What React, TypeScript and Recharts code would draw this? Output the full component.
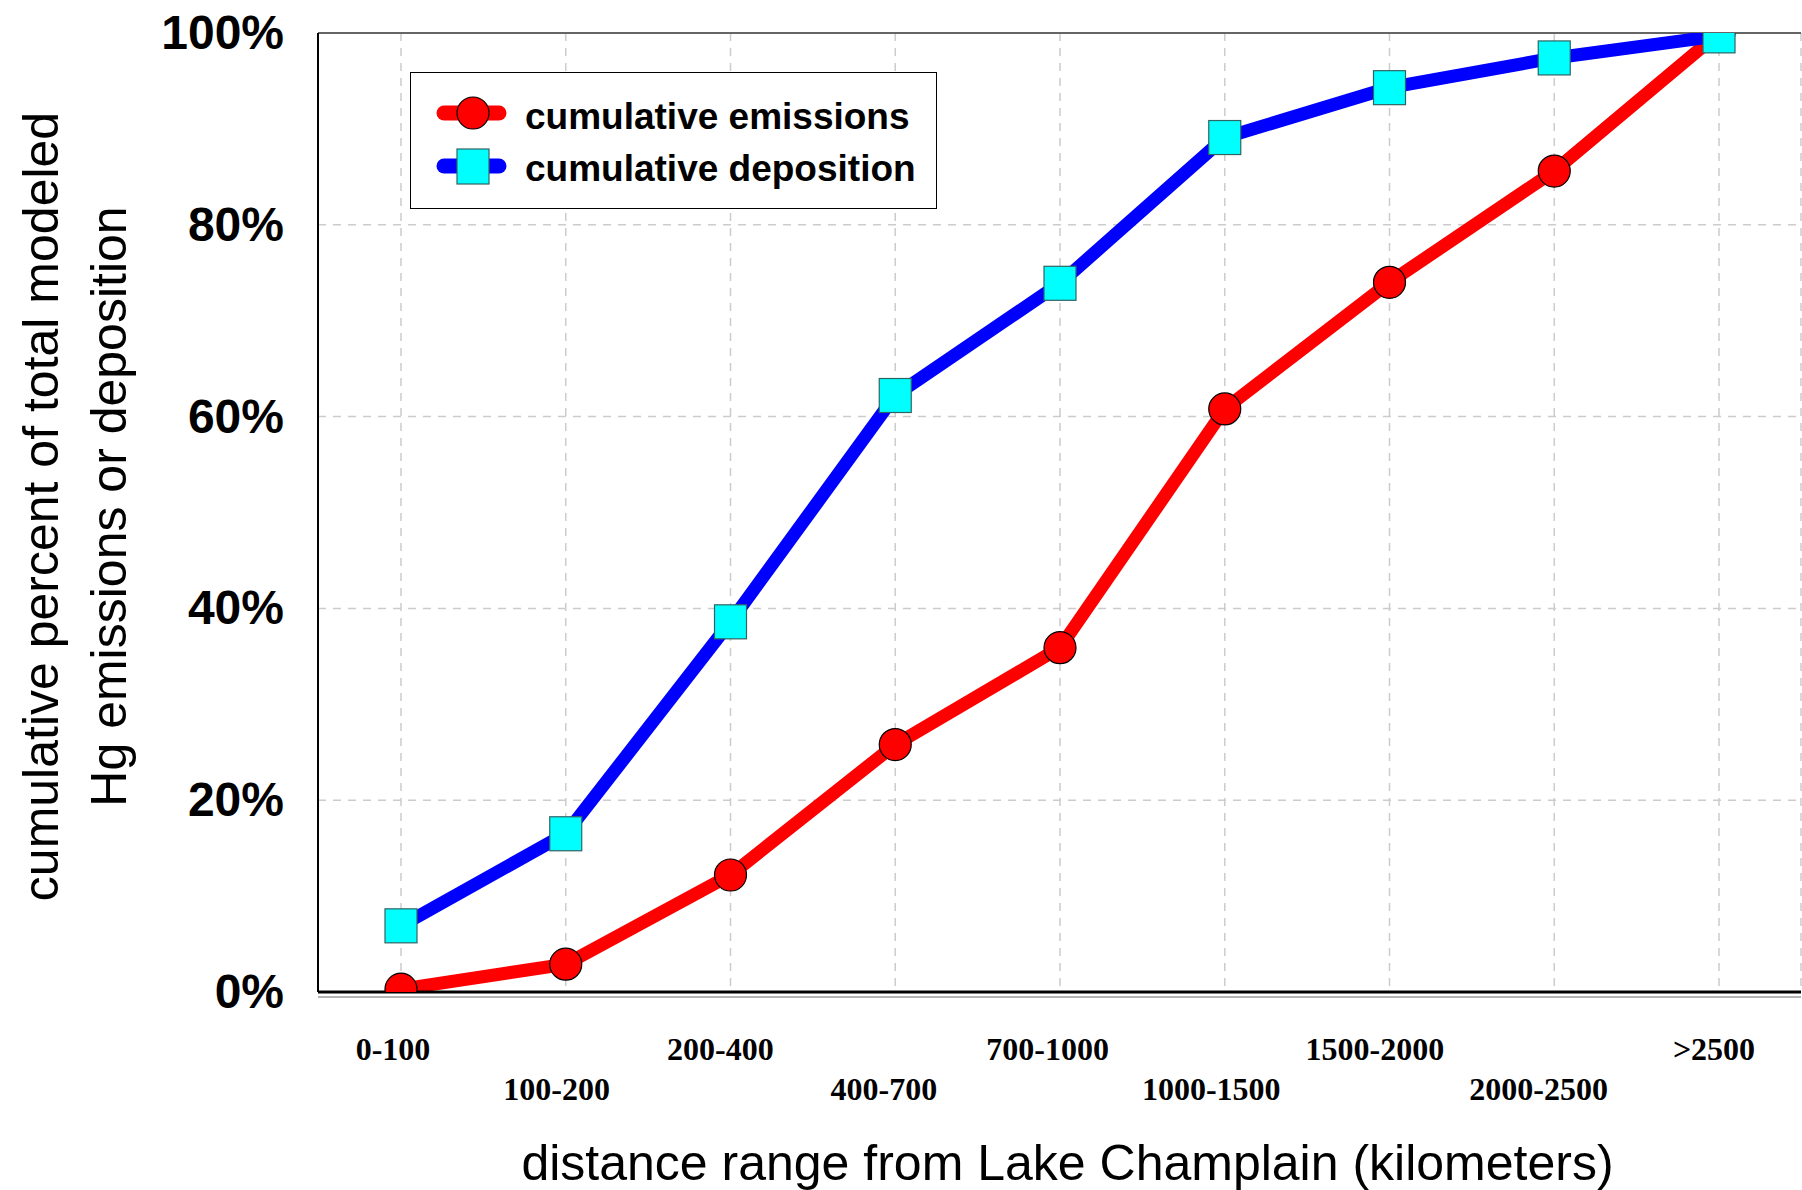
import React from 'react';
import {
  LineChart,
  Line,
  XAxis,
  YAxis,
  CartesianGrid,
  Legend,
  ReferenceLine,
} from 'recharts';

const categories = [
  '0-100',
  '100-200',
  '200-400',
  '400-700',
  '700-1000',
  '1000-1500',
  '1500-2000',
  '2000-2500',
  '>2500',
];
const emissions = [0.3, 2.9, 12.2, 25.8, 35.9, 60.8, 74.0, 85.6, 100];
const deposition = [6.9, 16.5, 38.6, 62.2, 73.9, 89.1, 94.3, 97.4, 99.7];
const yTicks = [0, 20, 40, 60, 80, 100];

const seriesOrder = ['emissions', 'deposition'];
const seriesNames: Record<string, string> = {
  emissions: 'cumulative emissions',
  deposition: 'cumulative deposition',
};

const data = categories.map((range, i) => ({
  range,
  emissions: emissions[i],
  deposition: deposition[i],
}));

const SANS = "'Liberation Sans', Arial, Helvetica, sans-serif";
const SERIF = "'Liberation Serif', 'Times New Roman', Times, serif";

const RED = '#ff0000';
const BLUE = '#0000ff';
const CYAN = '#00ffff';
const SQ_STROKE = '#2f6464';

// layout
const W = 1802;
const H = 1190;
const M_TOP = 33;
const M_RIGHT = 1;
const Y_AXIS_W = 318;
const X_AXIS_H = 198;
const PLOT = {
  x: Y_AXIS_W,
  y: M_TOP,
  width: W - Y_AXIS_W - M_RIGHT,
  height: H - M_TOP - X_AXIS_H,
};

const XTick = (props: any) => {
  const { x, y, payload, index } = props;
  const row = index % 2;
  const dx = index === categories.length - 1 ? -5 : -8 - 1.1 * index;
  return (
    <text
      x={x + dx}
      y={y + (row ? 108 : 68)}
      textAnchor="middle"
      fontFamily={SERIF}
      fontWeight="bold"
      fontSize={32}
      fill="#000"
    >
      {payload.value}
    </text>
  );
};

const YTick = (props: any) => {
  const { x, y, payload } = props;
  return (
    <text
      x={x}
      y={y + 16}
      textAnchor="end"
      fontFamily={SANS}
      fontWeight="bold"
      fontSize={48}
      fill="#000"
    >
      {`${payload.value}%`}
    </text>
  );
};

const SquareDot = (props: any) => {
  const { cx, cy, index } = props;
  if (cx == null || cy == null) return <g key={`sq-${index}`} />;
  return (
    <rect
      key={`sq-${index}`}
      x={cx - 16}
      y={cy - 17}
      width={32}
      height={34}
      fill={CYAN}
      stroke={SQ_STROKE}
      strokeWidth={1.2}
    />
  );
};

const CircleDot = (props: any) => {
  const { cx, cy, index } = props;
  if (cx == null || cy == null) return <g key={`ci-${index}`} />;
  return (
    <circle
      key={`ci-${index}`}
      cx={cx}
      cy={cy}
      r={16}
      fill={RED}
      stroke="#000"
      strokeWidth={1.2}
    />
  );
};

const LegendContent = (props: any) => {
  const payload = [...(props.payload || [])].sort(
    (a: any, b: any) => seriesOrder.indexOf(a.dataKey) - seriesOrder.indexOf(b.dataKey)
  );
  return (
    <div
      style={{
        width: 527,
        height: 137,
        border: '1.5px solid #000',
        background: '#fff',
        boxSizing: 'border-box',
      }}
    >
      <svg width={524} height={134} style={{ display: 'block' }}>
        {payload.map((entry: any, i: number) => {
          const cy = i === 0 ? 40 : 93;
          const isCircle = entry.dataKey === 'emissions';
          return (
            <g key={entry.dataKey}>
              <line
                x1={33}
                y1={cy}
                x2={88}
                y2={cy}
                stroke={entry.color}
                strokeWidth={15}
                strokeLinecap="round"
              />
              {isCircle ? (
                <circle cx={62} cy={cy} r={16} fill={RED} stroke="#000" strokeWidth={1.2} />
              ) : (
                <rect
                  x={46}
                  y={cy - 17}
                  width={32}
                  height={35}
                  fill={CYAN}
                  stroke={SQ_STROKE}
                  strokeWidth={1.2}
                />
              )}
              <text
                x={114}
                y={i === 0 ? 56 : 108}
                fontFamily={SANS}
                fontWeight="bold"
                fontSize={37}
                fill="#000"
              >
                {entry.value}
              </text>
            </g>
          );
        })}
      </svg>
    </div>
  );
};

const YTitle = (props: any) => {
  const vb = props.viewBox || { x: 0, y: PLOT.y, width: Y_AXIS_W, height: PLOT.height };
  const cy = vb.y + vb.height / 2 - 6;
  return (
    <g>
      <text
        transform={`translate(${vb.x + 58}, ${cy}) rotate(-90)`}
        textAnchor="middle"
        fontFamily={SANS}
        fontSize={50}
        fill="#000"
      >
        cumulative percent of total modeled
      </text>
      <text
        transform={`translate(${vb.x + 126}, ${cy}) rotate(-90)`}
        textAnchor="middle"
        fontFamily={SANS}
        fontSize={50}
        fill="#000"
      >
        Hg emissions or deposition
      </text>
    </g>
  );
};

const XTitle = (props: any) => {
  const vb = props.viewBox || { x: PLOT.x, y: PLOT.y + PLOT.height, width: PLOT.width, height: X_AXIS_H };
  return (
    <text
      x={vb.x + vb.width / 2 + 8}
      y={vb.y + 188}
      textAnchor="middle"
      fontFamily={SANS}
      fontSize={50}
      fill="#000"
    >
      distance range from Lake Champlain (kilometers)
    </text>
  );
};

export default function App() {
  return (
    <div style={{ position: 'absolute', left: 0, top: 0, width: W, height: H, background: '#fff' }}>
      <LineChart
        width={W}
        height={H}
        data={data}
        margin={{ top: M_TOP, right: M_RIGHT, bottom: 0, left: 0 }}
      >
        <defs>
          <clipPath id="plot-area-clip">
            <rect x={PLOT.x} y={PLOT.y} width={PLOT.width} height={PLOT.height} />
          </clipPath>
        </defs>
        <CartesianGrid stroke="#cccccc" strokeDasharray="8 7" strokeWidth={1.5} />
        <XAxis
          dataKey="range"
          height={X_AXIS_H}
          padding={{ left: 83, right: 82 }}
          interval={0}
          tickLine={false}
          tickSize={0}
          tickMargin={0}
          axisLine={{ stroke: '#000', strokeWidth: 3 }}
          tick={<XTick />}
          label={{ content: <XTitle /> }}
        />
        <YAxis
          width={Y_AXIS_W}
          domain={[0, 100]}
          ticks={yTicks}
          allowDataOverflow
          tickLine={false}
          tickSize={0}
          tickMargin={34}
          axisLine={{ stroke: '#000', strokeWidth: 2 }}
          tick={<YTick />}
          label={{ content: <YTitle /> }}
        />
        <ReferenceLine y={100} stroke="#666666" strokeWidth={2} />
        <ReferenceLine
          y={0}
          stroke="#b4b4b4"
          strokeWidth={2}
          shape={(p: any) => (
            <line x1={p.x1} y1={p.y1 + 5} x2={p.x2} y2={p.y2 + 5} stroke="#b4b4b4" strokeWidth={2} />
          )}
        />
        <Legend
          layout="vertical"
          verticalAlign="middle"
          align="center"
          wrapperStyle={{ top: 72, left: 410, width: 527, height: 137 }}
          content={<LegendContent />}
        />
        <g clipPath="url(#plot-area-clip)">
          <Line
            type="linear"
            dataKey="emissions"
            name={seriesNames.emissions}
            stroke={RED}
            strokeWidth={13}
            dot={<CircleDot />}
            activeDot={false}
            isAnimationActive={false}
          />
          <Line
            type="linear"
            dataKey="deposition"
            name={seriesNames.deposition}
            stroke={BLUE}
            strokeWidth={13}
            dot={<SquareDot />}
            activeDot={false}
            isAnimationActive={false}
          />
        </g>
      </LineChart>
    </div>
  );
}
